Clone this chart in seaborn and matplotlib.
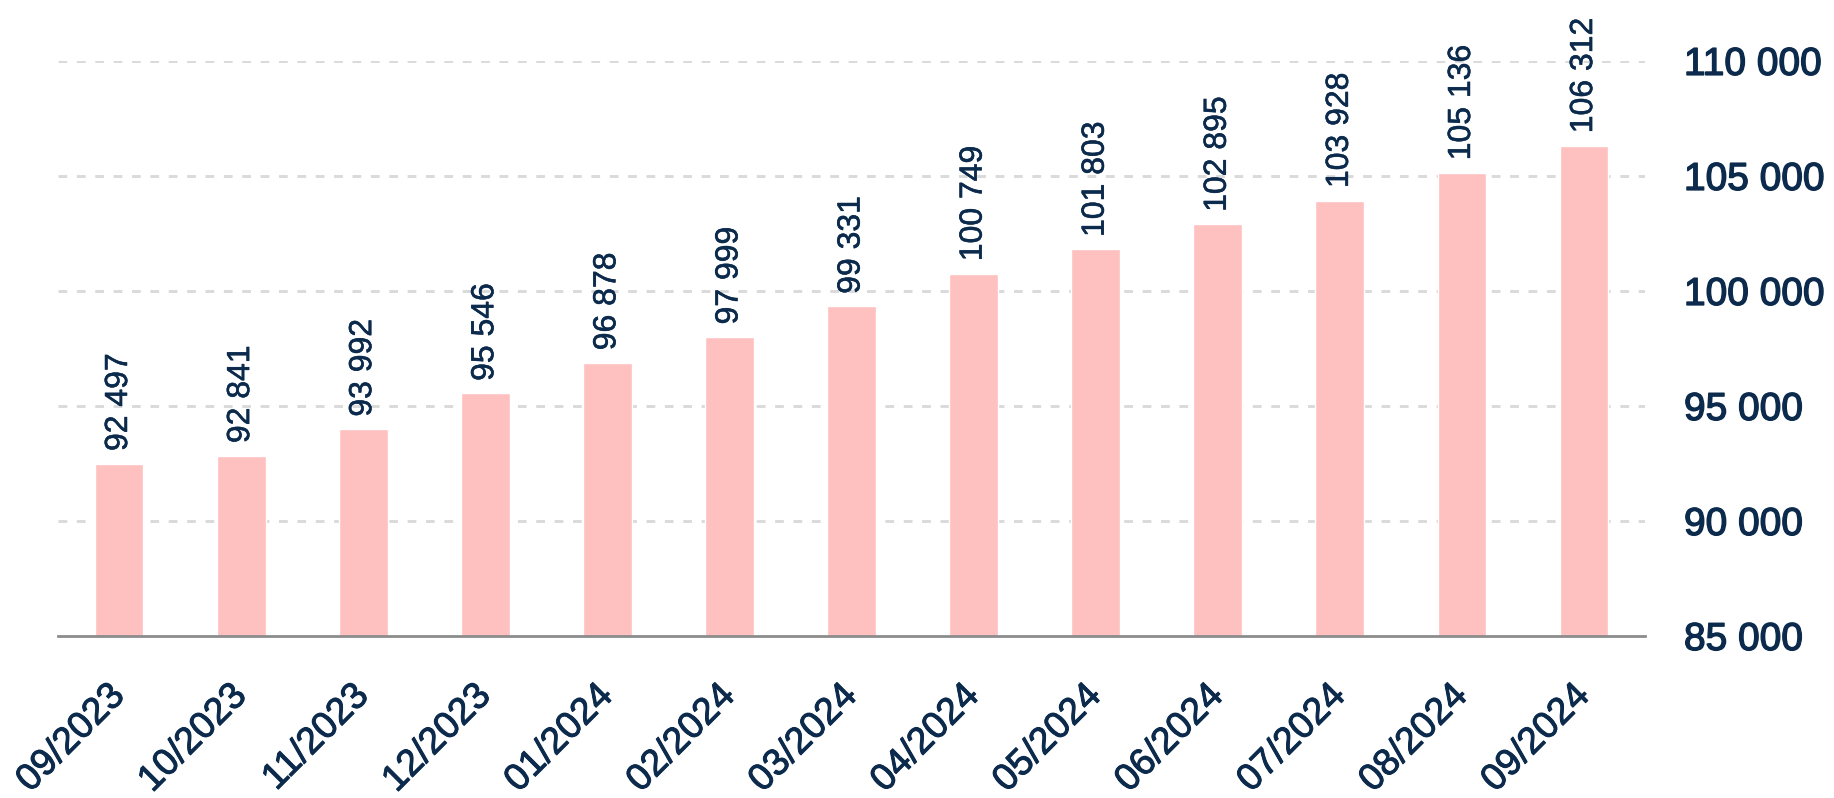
import matplotlib
matplotlib.use("Agg")
import matplotlib.pyplot as plt
import matplotlib.patheffects as pe
import seaborn as sns
import pandas as pd

months = ["09/2023", "10/2023", "11/2023", "12/2023", "01/2024", "02/2024", "03/2024",
          "04/2024", "05/2024", "06/2024", "07/2024", "08/2024", "09/2024"]
values = [92497, 92841, 93992, 95546, 96878, 97999, 99331,
          100749, 101803, 102895, 103928, 105136, 106312]
yticks = [85000, 90000, 95000, 100000, 105000, 110000]

navy = "#0b2a4c"
pink = "#ffc0c0"

sns.set_theme(style="white")
plt.rcParams['font.family'] = ['Liberation Sans', 'DejaVu Sans']

df = pd.DataFrame({"month": months, "value": values})

fig = plt.figure(figsize=(18.34, 7.98), dpi=100)
ax = fig.add_axes([0.0316, 0.203, 0.8654, 0.7207])

sns.barplot(data=df, x="month", y="value", color=pink, width=0.4, ax=ax,
            saturation=1, zorder=3)

ax.set_ylim(85000, 110000)
ax.set_xlim(-0.5, 12.5)
ax.set_yticks(yticks)
ax.set_yticklabels([f"{v:,}".replace(",", " ") for v in yticks])
ax.yaxis.tick_right()
ax.tick_params(axis="y", length=0, pad=28, labelsize=28, labelcolor=navy)
medium = [pe.withStroke(linewidth=1.0, foreground=navy)]
for t in ax.get_yticklabels():
    t.set_path_effects(medium)
ax.tick_params(axis="x", length=0, pad=39, labelsize=27, labelcolor=navy)
plt.setp(ax.get_xticklabels(), rotation=45, ha="right", va="center",
         rotation_mode="anchor", path_effects=[pe.withStroke(linewidth=0.7, foreground=navy)])

ax.set_xlabel("")
ax.set_ylabel("")

for v in yticks[1:]:
    ax.axhline(v, color="#dadada", linestyle=(0, (3, 3.3)), linewidth=2.1, zorder=1)

for s in ["top", "right", "left"]:
    ax.spines[s].set_visible(False)
ax.spines["bottom"].set_color("#8c8c8c")
ax.spines["bottom"].set_linewidth(2)
ax.spines["bottom"].set_zorder(4)

for i, v in enumerate(values):
    ax.annotate(f"{v:,}".replace(",", " "), xy=(i, v), xytext=(0, 9),
                textcoords="offset points", rotation=90, ha="center", va="bottom",
                fontsize=23, color=navy, annotation_clip=False,
                path_effects=[pe.withStroke(linewidth=0.4, foreground=navy)])

fig.savefig("out.png", dpi=100)
